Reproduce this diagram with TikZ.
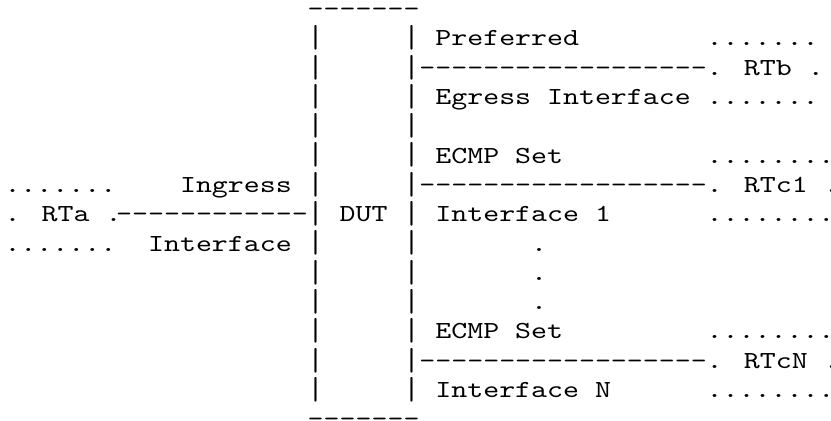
\documentclass[tikz,border=0pt]{standalone}
\usepackage{fontspec}
\newfontfamily\asciimono{lmmono10-regular.otf}[FakeStretch=1.2408]
\tikzset{
  asc/.style={anchor=base west, inner sep=0pt, outer sep=0pt,
    font=\asciimono\fontsize{12.25}{14.65}\selectfont, text=black},
}
% the '|' character, stretched to the height of the reference's bars
\newcommand\tallbar{\raisebox{-0.9pt}{\scalebox{1}[1.3]{|}}}
\begin{document}
\begin{tikzpicture}
\useasboundingbox (0,0) rectangle (415.5pt,-210.5pt);
\begin{scope}[shift={(2.25pt,-8.35pt)}, x=7.98pt, y=-14.65pt]
  % DUT box: top and bottom bars
  \foreach \c in {19,...,25} {
    \node[asc] (top\c) at (\c,0) {-};
    \node[asc] (bot\c) at (\c,14) {-};
  }
  % DUT box: side bars
  \foreach \r in {1,...,13} {
    \node[asc] (lp\r) at (19,\r) {\tallbar};
    \node[asc] (rp\r) at (25,\r) {\tallbar};
  }
  \node[asc] (dut) at (21,7) {DUT};
  % RTa side
  \node[asc] (rtatop) at (0,6) {.......};
  \node[asc] (rta) at (0,7) {. RTa .};
  \node[asc] (rtabot) at (0,8) {.......};
  \node[asc] (ingress) at (11,6) {Ingress};
  \node[asc] (ingressb) at (9,8) {Interface};
  \foreach \c in {7,...,18} \node[asc] (la\c) at (\c,7) {-};
  % RTb
  \node[asc] (pref) at (27,1) {Preferred};
  \node[asc] (rtbtop) at (44,1) {.......};
  \foreach \c in {26,...,43} \node[asc] (lb\c) at (\c,2) {-};
  \node[asc] (rtb) at (44,2) {. RTb .};
  \node[asc] (egress) at (27,3) {Egress Interface};
  \node[asc] (rtbbot) at (44,3) {.......};
  % RTc1
  \node[asc] (ecmp1) at (27,5) {ECMP Set};
  \node[asc] (rtc1top) at (44,5) {........};
  \foreach \c in {26,...,43} \node[asc] (lc\c) at (\c,6) {-};
  \node[asc] (rtc1) at (44,6) {. RTc1 .};
  \node[asc] (if1) at (27,7) {Interface 1};
  \node[asc] (rtc1bot) at (44,7) {........};
  % vertical ellipsis
  \foreach \r in {8,9,10} \node[asc] (vd\r) at (33,\r) {.};
  % RTcN
  \node[asc] (ecmpn) at (27,11) {ECMP Set};
  \node[asc] (rtcntop) at (44,11) {........};
  \foreach \c in {26,...,43} \node[asc] (ln\c) at (\c,12) {-};
  \node[asc] (rtcn) at (44,12) {. RTcN .};
  \node[asc] (ifn) at (27,13) {Interface N};
  \node[asc] (rtcnbot) at (44,13) {........};
\end{scope}
\end{tikzpicture}
\end{document}
